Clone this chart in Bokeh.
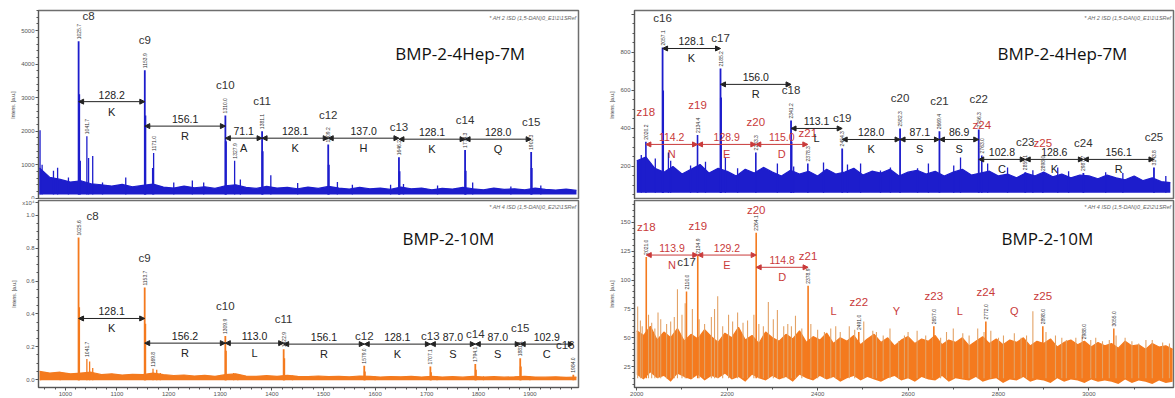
import math
from bokeh.plotting import figure
from bokeh.models import (Range1d, SingleIntervalTicker, FixedTicker, Arrow, NormalHead, Label,
                          ColumnDataSource, NumeralTickFormatter)
from bokeh.layouts import row, column
from bokeh.core.properties import value
from bokeh.embed import file_html
from bokeh.resources import INLINE

FONT = "Liberation Sans"
TITLE_FONT = "Open Sans"
INK = "#333333"
RED = "#c93a3a"
BLUE = "#1d1dcc"
ORANGE = "#f47a1e"
TAN = "#e3a266"

# ---------------- BMP-2-4Hep-7M, c8 - c15 ----------------
tl_ions = ["c8", "c9", "c10", "c11", "c12", "c13", "c14", "c15"]
tl_mz = [1025.7, 1153.9, 1310.0, 1381.1, 1509.2, 1646.2, 1774.3, 1902.3]
tl_int = [4680, 3820, 2470, 2000, 1600, 1220, 1440, 1380]
tl_res = ["K", "R", "A", "K", "H", "K", "Q"]
tl_arrow = [2880, 2150, 1790, 1790, 1790, 1760, 1760]
tl_iso_mz = [1026.7, 1154.9, 1311.0, 1382.1, 1510.2, 1647.2, 1775.3, 1903.3]
tl_iso_int = [3100, 2470, 1700, 1400, 1000, 800, 820, 900]
tl_minor_mz = [951, 955, 977, 985, 1006, 1029, 1041.7, 1045, 1053, 1072,
               1117, 1169, 1171.0, 1210, 1246, 1268, 1327.9, 1339, 1398, 1450,
               1527, 1556, 1630, 1655, 1721, 1789, 1863, 1921]
tl_minor_int = [2030, 1000, 820, 910, 620, 1120, 1850, 1200, 1260, 470,
                620, 900, 1350, 470, 530, 470, 1120, 560, 680, 450,
                480, 400, 400, 420, 380, 470, 350, 380]
tl_tagged = [1041.7, 1171.0, 1327.9]

left_band_mz = [950, 970, 990, 1010, 1030, 1050, 1070, 1090, 1110, 1130,
                1150, 1170, 1190, 1210, 1230, 1250, 1270, 1290, 1310, 1330,
                1350, 1370, 1390, 1410, 1430, 1450, 1470, 1490, 1510, 1530,
                1550, 1570, 1590, 1610, 1630, 1650, 1670, 1690, 1710, 1730,
                1750, 1770, 1790, 1810, 1830, 1850, 1870, 1890, 1910, 1930,
                1950, 1970, 1990]
tl_band_hi = [900, 620, 560, 480, 520, 430, 400, 360, 410, 340,
              380, 420, 330, 300, 360, 310, 340, 290, 370, 400,
              320, 290, 350, 300, 320, 280, 330, 290, 350, 300,
              270, 320, 280, 300, 260, 330, 280, 300, 250, 290,
              270, 320, 280, 250, 300, 260, 280, 250, 300, 260,
              240, 270, 230]
tl_floor = 110

# ---------------- BMP-2-10M, c8 - c16 (x10^4) ----------------
bl_ions = ["c8", "c9", "c10", "c11", "c12", "c13", "c14", "c15", "c16"]
bl_mz = [1025.6, 1153.7, 1309.9, 1422.9, 1579.0, 1707.1, 1794.1, 1881.1, 1984.0]
bl_int = [0.865, 0.56, 0.265, 0.185, 0.085, 0.08, 0.095, 0.13, 0.03]
bl_res = ["K", "R", "L", "R", "K", "S", "S", "C"]
bl_arrow = [0.372, 0.222, 0.222, 0.216, 0.216, 0.216, 0.216, 0.216]
bl_iso_mz = [1026.6, 1154.7, 1310.9, 1423.9, 1580.0, 1708.1, 1795.1, 1882.1]
bl_iso_int = [0.44, 0.34, 0.175, 0.13, 0.05, 0.045, 0.06, 0.08]
bl_minor_mz = [952, 990, 1041.7, 1047, 1053, 1169.8, 1177, 1184, 1326, 1334,
               1440, 1600, 1720, 1810, 1900]
bl_minor_int = [0.03, 0.028, 0.126, 0.11, 0.07, 0.066, 0.06, 0.04, 0.04, 0.03,
                0.025, 0.02, 0.02, 0.02, 0.02]
bl_tagged = [1041.7, 1169.8]
bl_band_hi = [0.05, 0.04, 0.045, 0.035, 0.04, 0.045, 0.03, 0.035, 0.028, 0.032,
              0.03, 0.04, 0.03, 0.025, 0.028, 0.022, 0.026, 0.02, 0.03, 0.035,
              0.022, 0.02, 0.024, 0.02, 0.026, 0.02, 0.018, 0.022, 0.018, 0.02,
              0.017, 0.022, 0.02, 0.016, 0.019, 0.017, 0.02, 0.016, 0.02, 0.016,
              0.018, 0.015, 0.02, 0.016, 0.018, 0.015, 0.017, 0.02, 0.016, 0.015,
              0.017, 0.014, 0.016]
bl_floor = -0.004
bl_yticks = [0.0, 0.2, 0.4, 0.6, 0.8, 1.0]
bl_scale_tick = 1.075   # where the x10^4 multiplier sits on the axis

# ---------------- BMP-2-4Hep-7M, c16 - c25 and z18 - z25 ----------------
tr_c_ions = ["c16", "c17", "c18", "c19", "c20", "c21", "c22", "c23", "c24", "c25"]
tr_c_mz = [2057.1, 2185.2, 2341.2, 2454.3, 2582.3, 2669.4, 2756.3, 2859.1, 2987.7, 3143.8]
tr_c_int = [826, 716, 442, 295, 400, 385, 395, 170, 165, 195]
tr_c_res = ["K", "R", "L", "K", "S", "S", "C", "K", "R"]
tr_c_arrow = [821, 632, 400, 342, 342, 342, 237, 237, 237]
tr_iso_mz = [2058.1, 2186.2, 2342.2]
tr_iso_int = [600, 563, 330]
tr_z_ions = ["z18", "z19", "z20", "z21", "z24", "z25"]
tr_z_mz = [2020.2, 2134.4, 2263.3, 2378.3, 2763.0, 2898.0]
tr_z_int = [330, 365, 274, 216, 258, 165]
tr_z_res = ["N", "E", "D"]
tr_z_arrow = [316, 316, 316]
tr_minor_mz = [2010, 2041, 2070, 2075, 2119, 2152, 2196, 2223, 2311, 2347,
               2413, 2466, 2495, 2539, 2561, 2621, 2645, 2701, 2716, 2776,
               2820, 2876, 2931, 2955, 3037, 3075, 3170]
tr_minor_int = [260, 242, 274, 230, 205, 225, 247, 190, 216, 200,
                221, 210, 215, 179, 195, 190, 216, 205, 247, 215,
                195, 180, 195, 175, 170, 165, 150]
tr_band_mz = [2000, 2020, 2040, 2060, 2080, 2100, 2120, 2140, 2160, 2180,
              2200, 2220, 2240, 2260, 2280, 2300, 2320, 2340, 2360, 2380,
              2400, 2420, 2440, 2460, 2480, 2500, 2520, 2540, 2560, 2580,
              2600, 2620, 2640, 2660, 2680, 2700, 2720, 2740, 2760, 2780,
              2800, 2820, 2840, 2860, 2880, 2900, 2920, 2940, 2960, 2980,
              3000, 3020, 3040, 3060, 3080, 3100, 3120, 3140, 3160, 3180]
tr_band_hi = [230, 250, 190, 170, 200, 160, 185, 210, 165, 190,
              175, 150, 185, 165, 195, 170, 150, 180, 160, 175,
              150, 185, 160, 170, 190, 155, 175, 165, 185, 150,
              170, 180, 160, 175, 150, 170, 185, 155, 165, 175,
              150, 160, 140, 165, 150, 170, 145, 160, 140, 155,
              150, 135, 155, 140, 130, 150, 125, 140, 120, 115]
tr_floor = 62

# ---------------- BMP-2-10M, z18 - z25 ----------------
br_z_ions = ["z18", "z19", "z20", "z21", "z22", "z23", "z24", "z25"]
br_z_mz = [2021.0, 2134.9, 2264.1, 2378.9, 2491.0, 2657.0, 2772.0, 2898.0]
br_z_int = [120, 121, 141, 95, 55, 60, 64, 60]
br_z_res = ["N", "E", "D", "L", "Y", "L", "Q"]
br_z_arrow = [121.6, 121.6, 111]
br_res_level = 73
br_c_ions = ["c17"]
br_c_mz = [2110.0]
br_c_int = [90]
br_tag_mz = [2988.0, 3055.0]
br_tag_int = [47, 58]
br_minor_mz = [2002, 2012, 2026, 2040, 2053, 2066, 2075, 2090, 2100, 2123,
               2150, 2165, 2179, 2190, 2203, 2223, 2235, 2245, 2280, 2291,
               2311, 2325, 2334, 2351, 2400, 2429, 2450, 2470, 2502, 2522,
               2545, 2579, 2600, 2639, 2672, 2700, 2721, 2754, 2783, 2811,
               2850, 2876, 2926, 2950, 2971, 3004, 3030, 3080, 3110, 3126, 3163,
               2008, 2033, 2047, 2083, 2107, 2138, 2172, 2212, 2259, 2270,
               2302, 2342, 2365, 2385, 2415, 2440, 2482, 2530, 2560, 2592,
               2620, 2655, 2685, 2735, 2768, 2800, 2835, 2862, 2905, 2940,
               2985, 3015, 3045, 3060, 3095, 3140, 3178]
br_minor_int = [77, 60, 70, 58, 66, 62, 64, 92, 70, 75,
                62, 68, 86, 60, 70, 72, 63, 65, 60, 81,
                74, 60, 62, 69, 57, 58, 55, 60, 64, 56,
                52, 47, 55, 52, 50, 58, 54, 58, 56, 52,
                50, 73, 52, 48, 50, 48, 47, 50, 45, 48, 46,
                65, 63, 72, 68, 80, 66, 75, 64, 70, 62,
                66, 60, 58, 62, 55, 60, 57, 55, 58, 52,
                56, 50, 55, 52, 55, 50, 54, 52, 55, 50,
                52, 50, 48, 52, 47, 48, 45]
br_band_mz = [2000, 2015, 2030, 2045, 2060, 2075, 2090, 2105, 2120, 2135,
              2150, 2165, 2180, 2195, 2210, 2225, 2240, 2255, 2270, 2285,
              2300, 2315, 2330, 2345, 2360, 2375, 2390, 2405, 2420, 2435,
              2450, 2465, 2480, 2495, 2510, 2525, 2540, 2555, 2570, 2585,
              2600, 2615, 2630, 2645, 2660, 2675, 2690, 2705, 2720, 2735,
              2750, 2765, 2780, 2795, 2810, 2825, 2840, 2855, 2870, 2885,
              2900, 2915, 2930, 2945, 2960, 2975, 2990, 3005, 3020, 3035,
              3050, 3065, 3080, 3095, 3110, 3125, 3140, 3155, 3170, 3185]
br_band_hi = [56, 52, 60, 48, 55, 50, 58, 47, 53, 49,
              57, 51, 46, 54, 50, 59, 48, 52, 45, 55,
              50, 47, 53, 49, 56, 46, 51, 48, 54, 45,
              50, 47, 52, 44, 49, 53, 46, 50, 43, 48,
              51, 45, 49, 47, 52, 44, 48, 46, 50, 43,
              47, 51, 45, 49, 44, 48, 46, 50, 43, 47,
              45, 49, 42, 46, 48, 44, 47, 42, 46, 43,
              45, 41, 47, 43, 44, 40, 45, 42, 43, 40]
br_band_lo = [18, 14, 20, 15, 17, 12, 19, 16, 14, 18,
              13, 17, 15, 19, 14, 16, 12, 18, 15, 13,
              17, 14, 16, 12, 18, 15, 13, 17, 14, 16,
              12, 15, 17, 13, 16, 14, 12, 15, 17, 13,
              15, 12, 16, 14, 13, 17, 12, 15, 14, 13,
              16, 12, 14, 15, 11, 14, 13, 16, 12, 14,
              13, 11, 15, 12, 14, 13, 11, 14, 12, 13,
              12, 10, 14, 11, 13, 12, 10, 13, 11, 12]
br_floor = 15


def make_panel(xr, yr, w, h, borders, y_tick, x_tick=None, y_fmt=None):
    left, right, top, bottom = borders
    p = figure(width=w, height=h, x_range=Range1d(*xr), y_range=Range1d(*yr),
               output_backend="svg", toolbar_location=None,
               x_axis_location="below" if x_tick else None,
               min_border_left=left, min_border_right=right,
               min_border_top=top, min_border_bottom=bottom)
    p.grid.grid_line_color = None
    p.outline_line_color = "#6e6e6e"
    p.outline_line_width = 1.5
    axes = list(p.yaxis) + (list(p.xaxis) if x_tick else [])
    for ax in axes:
        ax.axis_line_color = "#555555"
        ax.major_tick_line_color = "#555555"
        ax.minor_tick_line_color = "#555555"
        ax.major_tick_in = 0
        ax.major_tick_out = 3
        ax.minor_tick_in = 0
        ax.minor_tick_out = 2
        ax.major_label_text_font = FONT
        ax.major_label_text_font_size = "6px"
        ax.major_label_text_color = "#555555"
        ax.major_label_standoff = 1
    yax = p.yaxis[0]
    if isinstance(y_tick, tuple):
        yax.ticker = SingleIntervalTicker(interval=y_tick[0], num_minor_ticks=y_tick[1])
    else:
        yax.ticker = y_tick
    if y_fmt:
        yax.formatter = NumeralTickFormatter(format=y_fmt)
    yax.axis_label = "Intens. [a.u.]"
    yax.axis_label_text_font = FONT
    yax.axis_label_text_font_size = "5px"
    yax.axis_label_text_font_style = "normal"
    yax.axis_label_text_color = "#444444"
    yax.axis_label_standoff = 2
    if x_tick:
        p.xaxis[0].ticker = SingleIntervalTicker(interval=x_tick[0], num_minor_ticks=x_tick[1])
    return p


def frac_label(p, fx, fy, text, **kw):
    xs, xe = p.x_range.start, p.x_range.end
    ys, ye = p.y_range.start, p.y_range.end
    p.add_layout(Label(x=xs + fx * (xe - xs), y=ys + fy * (ye - ys), text=text, **kw))


def sticks(p, mz, inten, floor, color, width):
    p.segment(x0=mz, y0=[floor] * len(mz), x1=mz, y1=inten, line_color=color, line_width=width)


def band(p, mz, lo, hi, color):
    p.varea(x=mz, y1=lo, y2=hi, fill_color=color)
    p.line(mz, hi, line_color=color, line_width=1.2)


def mass_tags(p, mz, inten):
    p.text(x=mz, y=inten, text=[f"{m:.1f}" for m in mz], angle=math.pi / 2,
           text_align="left", text_baseline="middle", y_offset=-2,
           text_font=value(FONT), text_font_size="5px", text_color=INK)


def ion_names(p, names, mz, inten, color, nudge=None):
    nudge = nudge or {}
    dx = [nudge.get(n, (0, 0))[0] for n in names]
    dy = [-24 + nudge.get(n, (0, 0))[1] for n in names]
    p.text(x=mz, y=inten, text=names, x_offset=dx, y_offset=dy,
           text_align="center", text_baseline="bottom",
           text_font=value(FONT), text_font_size="11.5px", text_color=color)


def steps(p, x0, x1, level, residues, color, arrows=True):
    mid = [(a + b) / 2 for a, b in zip(x0, x1)]
    if arrows:
        src = ColumnDataSource(dict(x0=x0, x1=x1, y=level))
        p.add_layout(Arrow(start=NormalHead(size=5, fill_color=color, line_color=color),
                           end=NormalHead(size=5, fill_color=color, line_color=color),
                           x_start="x0", y_start="y", x_end="x1", y_end="y",
                           source=src, line_color=color, line_width=1))
        p.text(x=mid, y=level, text=[f"{b - a:.1f}" for a, b in zip(x0, x1)],
               y_offset=-3, text_align="center", text_baseline="bottom",
               text_font=value(FONT), text_font_size="10.5px", text_color=color)
    p.text(x=mid, y=level, text=residues, y_offset=4 if arrows else 0,
           text_align="center", text_baseline="top" if arrows else "middle",
           text_font=value(FONT), text_font_size="11px", text_color=color)


def pick(mz_list, int_list, wanted):
    return [int_list[mz_list.index(m)] for m in wanted]


def title_and_header(p, fx, fy, title, header, header_fy):
    frac_label(p, fx, fy, title, text_font=TITLE_FONT, text_font_size="17px",
               text_align="center", text_baseline="middle", text_color="#111111")
    frac_label(p, 0.996, header_fy, header, text_font=FONT, text_font_size="5.5px",
               text_font_style="italic", text_align="right", text_baseline="middle",
               text_color="#666666")


LEFT_X = (948, 1994)
RIGHT_X = (1995, 3187)
HEAD_1 = "* AH 2 ISD (1,5-DAN)0_E1\\1\\1SRef"
HEAD_2 = "* AH 4 ISD (1,5-DAN)0_E2\\2\\1SRef"

# ---- upper left ----
tl = make_panel(LEFT_X, (-40, 5600), 588, 199, (38, 10, 10, 0), (1000, 5))
band(tl, left_band_mz, [tl_floor] * len(left_band_mz), tl_band_hi, BLUE)
sticks(tl, tl_minor_mz, tl_minor_int, tl_floor, BLUE, 1.3)
sticks(tl, tl_iso_mz, tl_iso_int, tl_floor, BLUE, 2.0)
sticks(tl, tl_mz, tl_int, tl_floor, BLUE, 1.8)
mass_tags(tl, tl_mz, tl_int)
mass_tags(tl, tl_tagged, pick(tl_minor_mz, tl_minor_int, tl_tagged))
ion_names(tl, tl_ions, tl_mz, tl_int, INK, {"c8": (10, 5)})
steps(tl, tl_mz[:-1], tl_mz[1:], tl_arrow, tl_res, "#222222")
title_and_header(tl, 0.781, 0.772, "BMP-2-4Hep-7M", HEAD_1, 0.962)

# ---- lower left ----
bl_ticker = FixedTicker(ticks=bl_yticks + [bl_scale_tick],
                        minor_ticks=[round(0.05 * i, 2) for i in range(0, 21)])
bl = make_panel(LEFT_X, (-0.048, 1.09), 588, 199, (38, 10, 1, 9), bl_ticker,
                x_tick=(100, 5), y_fmt="0.0")
bl.yaxis[0].major_label_overrides = {bl_scale_tick: "x10\u2074"}
band(bl, left_band_mz, [bl_floor] * len(left_band_mz), bl_band_hi, ORANGE)
sticks(bl, bl_minor_mz, bl_minor_int, bl_floor, ORANGE, 1.3)
sticks(bl, bl_iso_mz, bl_iso_int, bl_floor, ORANGE, 2.0)
sticks(bl, bl_mz, bl_int, bl_floor, ORANGE, 1.8)
mass_tags(bl, bl_mz, bl_int)
mass_tags(bl, bl_tagged, pick(bl_minor_mz, bl_minor_int, bl_tagged))
ion_names(bl, bl_ions, bl_mz, bl_int, INK, {"c8": (14, 9), "c16": (-8, 0)})
steps(bl, bl_mz[:-1], bl_mz[1:], bl_arrow, bl_res, "#222222")
title_and_header(bl, 0.759, 0.795, "BMP-2-10M", HEAD_2, 0.965)

# ---- upper right ----
tr = make_panel(RIGHT_X, (26, 1021), 587, 199, (46, 2, 10, 0), (200, 4))
tr.yaxis[0].major_label_overrides = {1000: ""}
band(tr, tr_band_mz, [tr_floor] * len(tr_band_mz), tr_band_hi, BLUE)
sticks(tr, tr_minor_mz, tr_minor_int, tr_floor, BLUE, 1.3)
sticks(tr, tr_iso_mz, tr_iso_int, tr_floor, BLUE, 2.0)
sticks(tr, tr_z_mz, tr_z_int, tr_floor, BLUE, 1.6)
sticks(tr, tr_c_mz, tr_c_int, tr_floor, BLUE, 1.8)
mass_tags(tr, tr_c_mz, tr_c_int)
mass_tags(tr, tr_z_mz, tr_z_int)
ion_names(tr, tr_c_ions, tr_c_mz, tr_c_int, INK)
ion_names(tr, tr_z_ions, tr_z_mz, tr_z_int, RED)
steps(tr, tr_c_mz[:-1], tr_c_mz[1:], tr_c_arrow, tr_c_res, "#222222")
steps(tr, tr_z_mz[:3], tr_z_mz[1:4], tr_z_arrow, tr_z_res, RED)
title_and_header(tr, 0.794, 0.772, "BMP-2-4Hep-7M", HEAD_1, 0.962)

# ---- lower right ----
br = make_panel(RIGHT_X, (7, 168.8), 587, 199, (46, 2, 1, 9), (25, 5), x_tick=(200, 2))
band(br, br_band_mz, br_band_lo, br_band_hi, ORANGE)
sticks(br, br_minor_mz, br_minor_int, br_floor, TAN, 1.1)
sticks(br, br_tag_mz, br_tag_int, br_floor, ORANGE, 1.5)
sticks(br, br_c_mz, br_c_int, br_floor, ORANGE, 1.5)
sticks(br, br_z_mz, br_z_int, br_floor, ORANGE, 1.6)
mass_tags(br, br_z_mz, br_z_int)
mass_tags(br, br_c_mz, br_c_int)
mass_tags(br, br_tag_mz, br_tag_int)
ion_names(br, br_z_ions, br_z_mz, br_z_int, RED, {"z20": (0, 7)})
ion_names(br, br_c_ions, br_c_mz, br_c_int, INK)
steps(br, br_z_mz[:3], br_z_mz[1:4], br_z_arrow, br_z_res[:3], RED)
steps(br, br_z_mz[3:-1], br_z_mz[4:], [br_res_level] * 4, br_z_res[3:], RED, arrows=False)
title_and_header(br, 0.766, 0.795, "BMP-2-10M", HEAD_2, 0.965)

layout = row(column(tl, bl), column(tr, br))
open("out.html", "w").write(file_html(layout, INLINE))
